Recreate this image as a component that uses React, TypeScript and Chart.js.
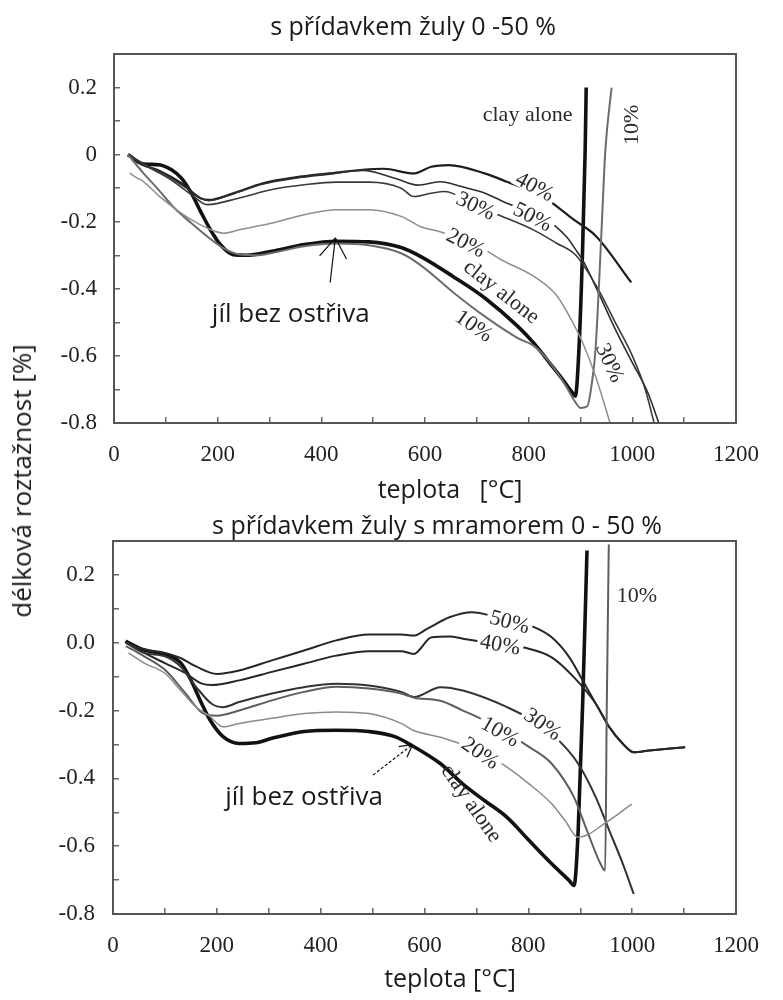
import React, { useEffect, useRef } from 'react';
import { Chart, registerables } from 'chart.js';

Chart.register(...registerables);

// ---------- Top panel: s přídavkem žuly 0-50 % ----------
const topClayT = [27, 55, 86, 111, 130, 149, 167, 186, 205, 230, 255, 305, 367, 429, 492, 554, 592, 654, 716, 779, 810, 841, 866, 885, 890, 897, 904, 909, 911];
const topClayV = [0, -0.027, -0.03, -0.045, -0.07, -0.114, -0.169, -0.224, -0.268, -0.298, -0.3, -0.288, -0.268, -0.258, -0.26, -0.277, -0.304, -0.363, -0.428, -0.512, -0.562, -0.622, -0.671, -0.711, -0.72, -0.58, -0.284, 0.014, 0.2];

const top10T = [27, 55, 86, 117, 149, 180, 211, 242, 274, 305, 367, 429, 492, 554, 592, 654, 716, 779, 810, 841, 872, 891, 900, 913, 922, 929, 939, 948, 960];
const top10V = [0, -0.052, -0.105, -0.16, -0.204, -0.244, -0.279, -0.298, -0.3, -0.293, -0.273, -0.265, -0.27, -0.294, -0.33, -0.41, -0.483, -0.547, -0.57, -0.62, -0.69, -0.74, -0.755, -0.75, -0.68, -0.58, -0.28, 0.014, 0.2];

const top20T = [30, 45, 55, 86, 117, 149, 180, 211, 242, 305, 367, 429, 492, 554, 592, 629, 700, 748, 810, 854, 885, 904, 929, 957];
const top20V = [-0.055, -0.07, -0.078, -0.122, -0.16, -0.194, -0.219, -0.234, -0.224, -0.204, -0.179, -0.164, -0.164, -0.184, -0.215, -0.23, -0.27, -0.314, -0.363, -0.42, -0.5, -0.56, -0.66, -0.8];

const top30T = [27, 70, 110, 150, 180, 242, 305, 367, 429, 492, 554, 578, 612, 638, 700, 750, 810, 854, 891, 930, 967, 1000, 1025, 1042];
const top30V = [0, -0.04, -0.075, -0.12, -0.149, -0.129, -0.104, -0.09, -0.082, -0.082, -0.1, -0.125, -0.115, -0.11, -0.155, -0.185, -0.225, -0.264, -0.3, -0.39, -0.5, -0.6, -0.7, -0.8];

const top40T = [27, 55, 90, 130, 167, 183, 230, 286, 350, 415, 480, 520, 578, 612, 646, 715, 758, 827, 887, 930, 998];
const top40V = [0, -0.03, -0.05, -0.085, -0.13, -0.135, -0.115, -0.086, -0.068, -0.056, -0.045, -0.042, -0.056, -0.036, -0.031, -0.056, -0.081, -0.125, -0.194, -0.243, -0.381];

const top50T = [27, 60, 100, 140, 167, 183, 230, 286, 350, 415, 480, 543, 586, 629, 672, 716, 758, 826, 873, 891, 904, 935, 967, 1000, 1030, 1051];
const top50V = [0, -0.03, -0.06, -0.1, -0.13, -0.137, -0.117, -0.088, -0.07, -0.058, -0.047, -0.071, -0.091, -0.081, -0.096, -0.115, -0.145, -0.185, -0.245, -0.284, -0.314, -0.413, -0.52, -0.62, -0.71, -0.8];

// ---------- Bottom panel: s přídavkem žuly s mramorem 0-50 % ----------
const botClayT = [24, 57, 88, 112, 131, 150, 168, 187, 212, 243, 275, 306, 368, 430, 493, 543, 571, 631, 674, 716, 759, 802, 845, 879, 888, 896, 905, 913];
const botClayV = [0.005, -0.02, -0.03, -0.04, -0.06, -0.11, -0.17, -0.228, -0.277, -0.297, -0.295, -0.282, -0.262, -0.258, -0.262, -0.277, -0.299, -0.357, -0.417, -0.466, -0.515, -0.584, -0.652, -0.702, -0.716, -0.554, -0.161, 0.272];

const bot10T = [25, 60, 100, 140, 175, 200, 243, 306, 368, 430, 493, 555, 580, 631, 674, 716, 802, 845, 888, 913, 939, 948, 951, 955];
const bot10V = [-0.01, -0.04, -0.08, -0.15, -0.21, -0.215, -0.2, -0.17, -0.145, -0.13, -0.135, -0.15, -0.162, -0.171, -0.2, -0.23, -0.308, -0.357, -0.456, -0.554, -0.652, -0.672, -0.2, 0.29];

const bot20T = [30, 60, 100, 130, 160, 185, 212, 243, 306, 368, 430, 493, 555, 579, 631, 720, 759, 802, 845, 871, 896, 950, 999];
const bot20V = [-0.03, -0.06, -0.09, -0.14, -0.19, -0.215, -0.248, -0.238, -0.223, -0.209, -0.204, -0.209, -0.238, -0.259, -0.279, -0.33, -0.367, -0.417, -0.475, -0.525, -0.574, -0.53, -0.476];

const bot30T = [25, 60, 100, 130, 160, 190, 212, 243, 306, 368, 430, 493, 555, 580, 631, 674, 759, 830, 871, 896, 930, 956, 982, 1003];
const bot30V = [0, -0.03, -0.04, -0.07, -0.13, -0.18, -0.19, -0.175, -0.15, -0.131, -0.121, -0.126, -0.145, -0.16, -0.131, -0.141, -0.19, -0.25, -0.308, -0.357, -0.456, -0.554, -0.652, -0.741];

const bot40T = [25, 60, 100, 140, 170, 190, 243, 306, 368, 430, 493, 555, 579, 614, 648, 674, 746, 794, 845, 888, 930, 956, 982, 1003, 1033, 1102];
const bot40V = [0, -0.03, -0.06, -0.09, -0.12, -0.125, -0.111, -0.086, -0.062, -0.038, -0.025, -0.025, -0.033, 0.016, 0.018, 0.012, -0.005, -0.015, -0.043, -0.102, -0.18, -0.249, -0.298, -0.323, -0.318, -0.308];

const bot50T = [25, 60, 100, 130, 160, 200, 243, 306, 368, 430, 493, 555, 579, 605, 648, 691, 740, 811, 845, 879, 905, 930, 956, 982, 1003, 1033, 1102];
const bot50V = [0, -0.02, -0.03, -0.045, -0.07, -0.092, -0.082, -0.052, -0.023, 0.007, 0.024, 0.024, 0.021, 0.041, 0.075, 0.09, 0.075, 0.046, 0.016, -0.043, -0.112, -0.18, -0.249, -0.298, -0.323, -0.318, -0.308];

// ---------- Axis ----------
const xMin = 0;
const xMax = 1200;
const yMin = -0.8;
const yMax = 0.3;

type Series = { t: number[]; v: number[]; color: string; width: number };
type Ann = { text: string; t: number; v: number; rot: number; bg: boolean };

const topSeries: Series[] = [
  { t: top20T, v: top20V, color: '#8e8e8e', width: 1.5 },
  { t: top10T, v: top10V, color: '#6c6c6c', width: 2 },
  { t: top30T, v: top30V, color: '#3a3a3a', width: 1.6 },
  { t: top50T, v: top50V, color: '#2e2e2e', width: 1.6 },
  { t: top40T, v: top40V, color: '#1e1e1e', width: 2.2 },
  { t: topClayT, v: topClayV, color: '#111111', width: 3.6 },
];

const botSeries: Series[] = [
  { t: bot20T, v: bot20V, color: '#8a8a8a', width: 1.5 },
  { t: bot10T, v: bot10V, color: '#5e5e5e', width: 2 },
  { t: bot30T, v: bot30V, color: '#333333', width: 2 },
  { t: bot40T, v: bot40V, color: '#262626', width: 2 },
  { t: bot50T, v: bot50V, color: '#262626', width: 2 },
  { t: botClayT, v: botClayV, color: '#111111', width: 3.6 },
];

const topLabels: Ann[] = [
  { text: 'clay alone', t: 798, v: 0.119, rot: 0, bg: false },
  { text: '10%', t: 997, v: 0.089, rot: -90, bg: false },
  { text: '40%', t: 812, v: -0.095, rot: 28, bg: true },
  { text: '30%', t: 698, v: -0.152, rot: 25, bg: true },
  { text: '50%', t: 808, v: -0.185, rot: 27, bg: true },
  { text: '20%', t: 679, v: -0.262, rot: 27, bg: true },
  { text: 'clay alone', t: 748, v: -0.408, rot: 38, bg: false },
  { text: '10%', t: 695, v: -0.51, rot: 35, bg: false },
  { text: '30%', t: 957, v: -0.62, rot: 65, bg: false },
];

const botLabels: Ann[] = [
  { text: '10%', t: 1009, v: 0.139, rot: 0, bg: false },
  { text: '50%', t: 764, v: 0.062, rot: 15, bg: true },
  { text: '40%', t: 746, v: -0.005, rot: 10, bg: true },
  { text: '30%', t: 828, v: -0.24, rot: 35, bg: true },
  { text: '10%', t: 746, v: -0.262, rot: 30, bg: true },
  { text: '20%', t: 708, v: -0.325, rot: 35, bg: true },
  { text: 'clay alone', t: 691, v: -0.473, rot: 55, bg: false },
];

const SANS = '"Open Sans", "Noto Sans", sans-serif';
const SERIF = '"Liberation Serif", "Times New Roman", serif';

const decorPlugin = {
  id: 'decor',
  afterDatasetsDraw(chart: any, _args: any, opts: any) {
    const { ctx, chartArea: ca } = chart;
    const x = chart.scales.x;
    const y = chart.scales.y;
    ctx.save();
    // frame
    ctx.strokeStyle = '#555';
    ctx.lineWidth = 2;
    ctx.strokeRect(ca.left, ca.top, ca.right - ca.left, ca.bottom - ca.top);

    // curve labels
    ctx.font = `22px ${SERIF}`;
    ctx.textAlign = 'center';
    ctx.textBaseline = 'middle';
    for (const a of opts.labels as Ann[]) {
      const px = x.getPixelForValue(a.t);
      const py = y.getPixelForValue(a.v);
      ctx.save();
      ctx.translate(px, py);
      ctx.rotate((a.rot * Math.PI) / 180);
      if (a.bg) {
        const w = ctx.measureText(a.text).width;
        ctx.fillStyle = '#fff';
        ctx.fillRect(-w / 2 - 3, -8, w + 6, 16);
      }
      ctx.fillStyle = '#2a2a2a';
      ctx.fillText(a.text, 0, 1);
      ctx.restore();
    }

    // note + arrow
    const n = opts.note;
    ctx.font = `26px ${SANS}`;
    ctx.fillStyle = '#1a1a1a';
    ctx.fillText(n.text, x.getPixelForValue(n.t), y.getPixelForValue(n.v));
    const ar = opts.arrow;
    const x0 = x.getPixelForValue(ar.t0), y0 = y.getPixelForValue(ar.v0);
    const x1 = x.getPixelForValue(ar.t1), y1 = y.getPixelForValue(ar.v1);
    ctx.strokeStyle = '#111';
    ctx.lineWidth = 1.2;
    ctx.setLineDash(ar.dashed ? [3, 2] : []);
    ctx.beginPath();
    ctx.moveTo(x0, y0);
    ctx.lineTo(x1, y1);
    ctx.stroke();
    ctx.setLineDash([]);
    const ang = Math.atan2(y1 - y0, x1 - x0);
    for (const s of [-1, 1]) {
      const a2 = ang + Math.PI + s * ar.spread;
      ctx.beginPath();
      ctx.moveTo(x1, y1);
      ctx.lineTo(x1 + Math.cos(a2) * ar.len, y1 + Math.sin(a2) * ar.len);
      ctx.stroke();
    }

    // titles
    ctx.fillStyle = '#1a1a1a';
    ctx.font = `25px ${SANS}`;
    ctx.fillText(opts.title, opts.titleX, opts.titleY);
    ctx.fillText(opts.xTitle, opts.xTitleX, opts.xTitleY);
    ctx.restore();
  },
};

function buildConfig(
  series: Series[],
  zeroLabel: string,
  area: { left: number; right: number; top: number; bottom: number },
  decor: any,
  H: number,
  yPad: number
): any {
  const gridOpts = {
    drawOnChartArea: false,
    drawTicks: true,
    tickLength: -6,
    color: '#666',
    lineWidth: 1.5,
  };
  return {
    type: 'line',
    data: {
      datasets: series.map((s) => ({
        data: s.t.map((t, i) => ({ x: t, y: s.v[i] })),
        borderColor: s.color,
        borderWidth: s.width,
        pointRadius: 0,
        fill: false,
        cubicInterpolationMode: 'monotone',
      })),
    },
    options: {
      animation: false,
      responsive: false,
      maintainAspectRatio: false,
      events: [],
      layout: { padding: { left: 0, right: 783 - area.right, top: area.top, bottom: 0 } },
      plugins: { legend: { display: false }, tooltip: { enabled: false }, title: { display: false }, decor },
      scales: {
        x: {
          type: 'linear',
          min: xMin,
          max: xMax,
          afterFit: (s: any) => {
            s.height = H - area.bottom;
          },
          ticks: {
            stepSize: 100,
            autoSkip: false,
            maxRotation: 0,
            padding: 24,
            color: '#222',
            font: { family: SERIF, size: 23 },
            callback: (v: number) => (Math.round(v) % 200 === 0 ? String(Math.round(v)) : ''),
          },
          grid: gridOpts,
          border: { display: false },
        },
        y: {
          type: 'linear',
          min: yMin,
          max: yMax,
          afterFit: (s: any) => {
            s.width = area.left;
          },
          ticks: {
            stepSize: 0.1,
            autoSkip: false,
            padding: yPad,
            color: '#222',
            font: { family: SERIF, size: 23 },
            callback: (v: number) => {
              const k = Math.round(v * 10);
              if (k % 2 !== 0) return '';
              if (k === 0) return zeroLabel;
              return (k / 10).toFixed(1);
            },
          },
          grid: gridOpts,
          border: { display: false },
        },
      },
    },
    plugins: [decorPlugin],
  };
}

export default function App() {
  const r1 = useRef<HTMLCanvasElement>(null);
  const r2 = useRef<HTMLCanvasElement>(null);

  useEffect(() => {
    const c1 = new Chart(
      r1.current as HTMLCanvasElement,
      buildConfig(
        topSeries,
        '0',
        { left: 114, right: 755, top: 54, bottom: 423 },
        {
          labels: topLabels,
          note: { text: 'jíl bez ostřiva', t: 341, v: -0.477 },
          arrow: { t0: 417, v0: -0.381, t1: 427, v1: -0.248, dashed: false, len: 24, spread: 0.6 },
          title: 's přídavkem žuly 0 -50 %',
          titleX: 413,
          titleY: 28,
          xTitle: 'teplota   [°C]',
          xTitleX: 450,
          xTitleY: 491,
        },
        515,
        23
      )
    );
    const c2 = new Chart(
      r2.current as HTMLCanvasElement,
      buildConfig(
        botSeries,
        '0.0',
        { left: 113, right: 755, top: 41, bottom: 414 },
        {
          labels: botLabels,
          note: { text: 'jíl bez ostřiva', t: 368, v: -0.458 },
          arrow: { t0: 501, v0: -0.39, t1: 577, v1: -0.3, dashed: true, len: 14, spread: 0.5 },
          title: 's přídavkem žuly s mramorem 0 - 50 %',
          titleX: 437,
          titleY: 27,
          xTitle: 'teplota [°C]',
          xTitleX: 450,
          xTitleY: 480,
        },
        500,
        24
      )
    );
    return () => {
      c1.destroy();
      c2.destroy();
    };
  }, []);

  return (
    <div style={{ position: 'absolute', left: 0, top: 0, width: 783, height: 1000, background: '#fff', overflow: 'hidden' }}>
      <canvas ref={r1} width={783} height={515} style={{ position: 'absolute', left: 0, top: 0 }} />
      <canvas ref={r2} width={783} height={500} style={{ position: 'absolute', left: 0, top: 500 }} />
      <div
        style={{
          position: 'absolute',
          left: 21,
          top: 481,
          transform: 'translate(-50%, -50%) rotate(-90deg)',
          font: `26px ${SANS}`,
          whiteSpace: 'nowrap',
          color: '#1a1a1a',
        }}
      >
        délková roztažnost [%]
      </div>
    </div>
  );
}
